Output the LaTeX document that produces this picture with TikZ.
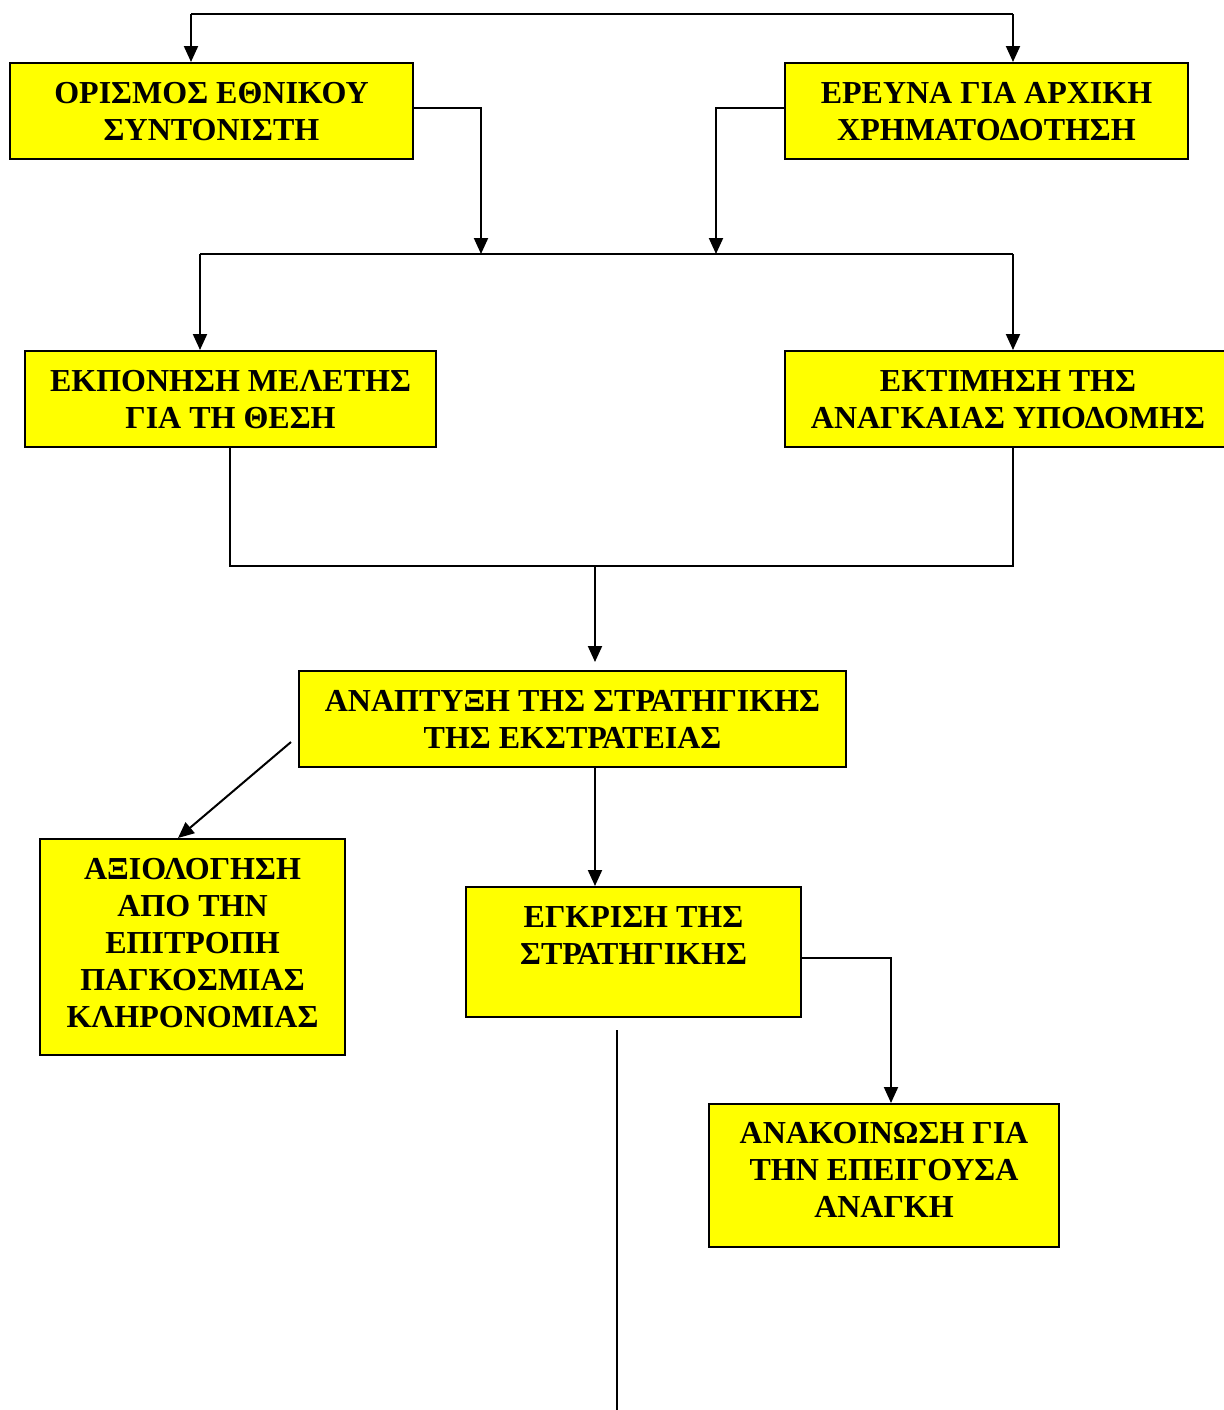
\documentclass[tikz,border=0pt]{standalone}
\usepackage{fontspec}
\setmainfont{Liberation Serif}
\usetikzlibrary{arrows.meta,calc}
\definecolor{boxyellow}{HTML}{FFFF00}
\tikzset{
  stagebox/.style={draw=black, line width=1pt, fill=boxyellow, rectangle, inner sep=0pt, anchor=north west},
  stagetext/.style={anchor=north, inner sep=0pt, align=center, font=\fontsize{16}{18.5}\selectfont\bfseries},
  conn/.style={line width=1pt, draw=black},
  arr/.style={conn, -{Triangle[length=8pt,width=7pt]}}
}
\begin{document}
\begin{tikzpicture}[x=0.5pt,y=-0.5pt]
\useasboundingbox (0,0) rectangle (1224,1410);

% boxes
\node[stagebox, minimum width=201.5pt, minimum height=48pt] (b1) at (9,62) {};
\node[stagebox, minimum width=201.5pt, minimum height=48pt] (b2) at (784,62) {};
\node[stagebox, minimum width=205.5pt, minimum height=48pt] (b3) at (24,350) {};
\node[stagebox, minimum width=223pt, minimum height=48pt] (b4) at (784,350) {};
\node[stagebox, minimum width=273.5pt, minimum height=48pt] (b5) at (298,670) {};
\node[stagebox, minimum width=152.5pt, minimum height=108pt] (b6) at (39,838) {};
\node[stagebox, minimum width=167.5pt, minimum height=65pt] (b7) at (465,886) {};
\node[stagebox, minimum width=175pt, minimum height=71.5pt] (b8) at (708,1103) {};

% texts
\node[stagetext] (t1) at ($(b1.north)+(0,20)$) {ΟΡΙΣΜΟΣ ΕΘΝΙΚΟΥ\\ΣΥΝΤΟΝΙΣΤΗ};
\node[stagetext] (t2) at ($(b2.north)+(0,20)$) {ΕΡΕΥΝΑ ΓΙΑ ΑΡΧΙΚΗ\\ΧΡΗΜΑΤΟΔΟΤΗΣΗ};
\node[stagetext] (t3) at ($(b3.north)+(0,20)$) {ΕΚΠΟΝΗΣΗ ΜΕΛΕΤΗΣ\\ΓΙΑ ΤΗ ΘΕΣΗ};
\node[stagetext] (t4) at ($(b4.north)+(0,20)$) {ΕΚΤΙΜΗΣΗ ΤΗΣ\\ΑΝΑΓΚΑΙΑΣ ΥΠΟΔΟΜΗΣ};
\node[stagetext] (t5) at ($(b5.north)+(0,20)$) {ΑΝΑΠΤΥΞΗ ΤΗΣ ΣΤΡΑΤΗΓΙΚΗΣ\\ΤΗΣ ΕΚΣΤΡΑΤΕΙΑΣ};
\node[stagetext] (t6) at ($(b6.north)+(0,20)$) {ΑΞΙΟΛΟΓΗΣΗ\\ΑΠΟ ΤΗΝ\\ΕΠΙΤΡΟΠΗ\\ΠΑΓΚΟΣΜΙΑΣ\\ΚΛΗΡΟΝΟΜΙΑΣ};
\node[stagetext] (t7) at ($(b7.north)+(0,20)$) {ΕΓΚΡΙΣΗ ΤΗΣ\\ΣΤΡΑΤΗΓΙΚΗΣ};
\node[stagetext] (t8) at ($(b8.north)+(0,19)$) {ΑΝΑΚΟΙΝΩΣΗ ΓΙΑ\\ΤΗΝ ΕΠΕΙΓΟΥΣΑ\\ΑΝΑΓΚΗ};

% helper coordinates
\coordinate (topL) at (191,14);
\coordinate (topR) at (1013,14);
\coordinate (y108) at (0,108);
\coordinate (m1) at (481,254);
\coordinate (m2) at (716,254);
\coordinate (h1) at (200,254);
\coordinate (h2) at (1013,254);
\coordinate (b3s) at (230,446);
\coordinate (b4s) at (1013,446);
\coordinate (j) at (595,566);
\coordinate (a5) at (595,662);
\coordinate (d0) at (291,742);
\coordinate (d1) at (178,838);
\coordinate (x595) at (595,0);
\coordinate (b7e) at (800,958);
\coordinate (x891) at (891,0);
\coordinate (v0) at (617,1030);
\coordinate (v1) at (617,1412);

% connectors
\draw[conn] (topL) -- (topR);
\draw[arr] (topL) -- (topL |- b1.north);
\draw[arr] (topR) -- (topR |- b2.north);
\draw[arr] (b1.east |- y108) -| (m1);
\draw[arr] (b2.west |- y108) -| (m2);
\draw[conn] (h1) -- (h2);
\draw[arr] (h1) -- (h1 |- b3.north);
\draw[arr] (h2) -- (h2 |- b4.north);
\draw[conn] (b3s) |- (j) -| (b4s);
\draw[arr] (j) -- (a5);
\draw[arr] (d0) -- (d1);
\draw[arr] (b5.south -| x595) -- (b7.north -| x595);
\draw[arr] (b7e) -| (b8.north -| x891);
\draw[conn] (v0) -- (v1);
\end{tikzpicture}
\end{document}
